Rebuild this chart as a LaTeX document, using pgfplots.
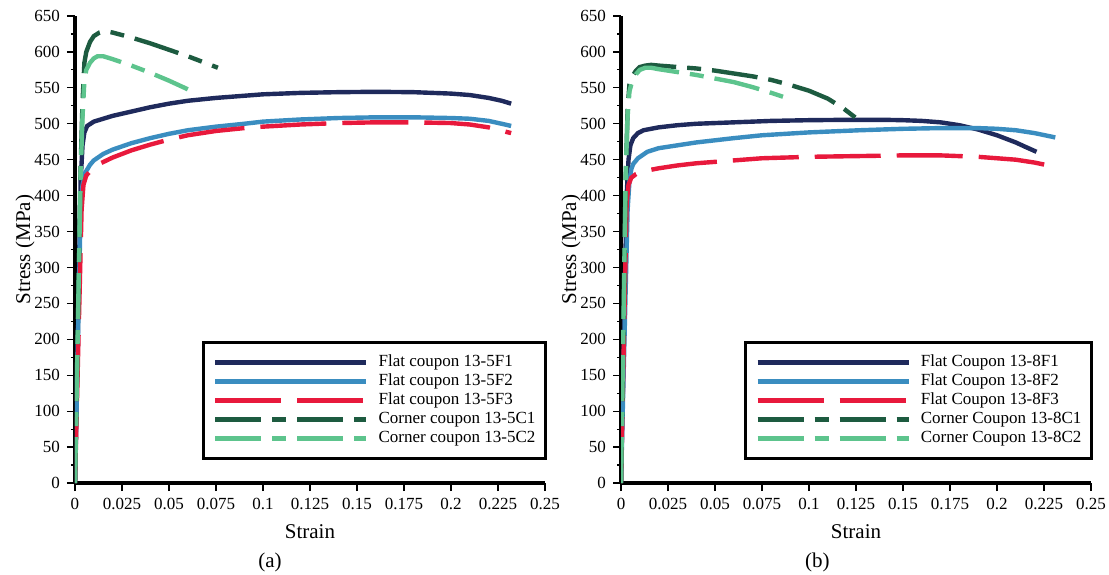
\documentclass[border=0pt]{standalone}
\usepackage{pgfplots}
\pgfplotsset{compat=1.18}
\usetikzlibrary{calc}
\usepackage{fontspec}
\setmainfont{Liberation Serif}

\definecolor{cF1}{HTML}{1F2A5C}
\definecolor{cF2}{HTML}{3A8DC0}
\definecolor{cF3}{HTML}{E8193C}
\definecolor{cC1}{HTML}{1D5B40}
\definecolor{cC2}{HTML}{5DC48D}

\pgfplotsset{
  panel/.style={
    scale only axis, width=235pt, height=233.5pt,
    xmin=0, xmax=0.25, ymin=0, ymax=650,
    axis x line*=bottom, axis y line*=left,
    axis line style={line width=1.6pt, -},
    tick align=outside, major tick length=4pt, minor tick length=2pt,
    tick style={black, line width=0.6pt},
    xtick={0,0.025,0.05,0.075,0.1,0.125,0.15,0.175,0.2,0.225,0.25},
    xticklabels={0,0.025,0.05,0.075,0.1,0.125,0.15,0.175,0.2,0.225,0.25},
    ytick={0,50,...,650}, minor y tick num=1,
    /pgf/number format/assume math mode=true,
    tick label style={font=\rmfamily\fontsize{8.5}{10}\selectfont},
    xlabel={Strain}, ylabel={Stress (MPa)},
    label style={font=\rmfamily\fontsize{10.5}{12}\selectfont},
    xlabel style={at={(axis description cs:0.5,-0.105)}, anchor=center},
    ylabel style={at={(axis description cs:-0.106,0.5)}, anchor=center},
    legend style={at={(1,0)}, anchor=south east, yshift=11.5pt, xshift=1pt,
      draw=black, line width=1.6pt, inner xsep=5pt, inner ysep=6pt,
      row sep=1.5pt, column sep=5pt, font=\rmfamily\fontsize{8.5}{10}\selectfont,
      nodes={inner sep=0pt, text height=6.2pt, text depth=1.8pt}},
    legend cell align=left,
    legend image code/.code={\draw[##1] (0pt,0pt) -- (75.5pt,0pt);},
  },
  sF1/.style={cF1, line width=2.2pt},
  sF2/.style={cF2, line width=2.2pt},
  sF3/.style={cF3, line width=2.2pt, dash pattern=on 33pt off 8pt},
  sC1/.style={cC1, line width=2.2pt, dash pattern=on 23pt off 5.5pt on 7pt off 5.5pt},
  sC2/.style={cC2, line width=2.2pt, dash pattern=on 23pt off 5.5pt on 7pt off 5.5pt},
}

\begin{document}
\begin{tikzpicture}
\useasboundingbox (-37.5pt,-45.5pt) rectangle (517pt,241.5pt);

\begin{axis}[panel, name=pa]
\addplot[sF1] coordinates {(0,0) (0.0030,420) (0.0040,470) (0.0050,488) (0.0065,497) (0.010,503) (0.015,507) (0.020,511) (0.030,517) (0.040,523) (0.050,528) (0.060,532) (0.075,536) (0.090,539) (0.10,541) (0.12,543) (0.14,544) (0.16,544.5) (0.18,544) (0.20,542) (0.21,540) (0.22,536) (0.227,532) (0.232,528)};
\addlegendentry{Flat coupon 13-5F1}
\addplot[sF2] coordinates {(0,0) (0.0030,380) (0.0040,415) (0.0055,432) (0.008,443) (0.010,449) (0.015,458) (0.020,464) (0.030,473) (0.040,480) (0.050,486) (0.060,491) (0.075,496) (0.090,500) (0.10,503) (0.12,506) (0.14,508) (0.16,509) (0.18,509) (0.20,508) (0.21,507) (0.22,504) (0.227,500) (0.232,497)};
\addlegendentry{Flat coupon 13-5F2}
\addplot[sF3] coordinates {(0,0) (0.0035,380) (0.0045,415) (0.006,428) (0.008,434) (0.012,443) (0.020,453) (0.030,463) (0.040,471) (0.050,478) (0.060,484) (0.075,490) (0.090,494) (0.10,496) (0.12,499) (0.14,501) (0.16,502) (0.18,502) (0.20,501) (0.21,499) (0.22,495) (0.232,487)};
\addlegendentry{Flat coupon 13-5F3}
\addplot[sC1] coordinates {(0,0) (0.0030,440) (0.0040,530) (0.0050,585) (0.0060,600) (0.008,614) (0.010,622) (0.013,627) (0.016,629) (0.020,627) (0.030,620) (0.040,612) (0.050,603) (0.060,594) (0.070,584) (0.076,578)};
\addlegendentry{Corner coupon 13-5C1}
\addplot[sC2] coordinates {(0,0) (0.0030,430) (0.0040,510) (0.0050,560) (0.0060,575) (0.008,585) (0.010,591) (0.012,594) (0.015,594) (0.020,590) (0.030,581) (0.040,571) (0.050,560) (0.060,548)};
\addlegendentry{Corner coupon 13-5C2}
\end{axis}

\begin{axis}[panel, name=pb, at={(273pt,0pt)}]
\addplot[sF1] coordinates {(0,0) (0.003,400) (0.004,450) (0.005,470) (0.0065,480) (0.009,487) (0.012,491) (0.020,495) (0.030,498) (0.040,500) (0.060,502) (0.080,504) (0.10,505) (0.12,505.5) (0.14,505.5) (0.15,505) (0.16,504) (0.17,502) (0.18,498) (0.19,492) (0.20,484) (0.21,474) (0.215,468) (0.221,461)};
\addlegendentry{Flat Coupon 13-8F1}
\addplot[sF2] coordinates {(0,0) (0.0035,380) (0.0045,420) (0.0055,437) (0.0065,444) (0.009,452) (0.014,461) (0.020,466) (0.030,470) (0.040,474) (0.060,480) (0.075,484) (0.10,488) (0.127,491) (0.15,493) (0.17,494) (0.19,494) (0.20,493) (0.21,491) (0.22,487) (0.231,481)};
\addlegendentry{Flat Coupon 13-8F2}
\addplot[sF3] coordinates {(0,0) (0.0030,390) (0.0040,415) (0.0055,425) (0.008,430) (0.012,434) (0.020,438) (0.030,442) (0.040,445) (0.060,449) (0.075,452) (0.10,454) (0.125,455) (0.15,456) (0.17,456) (0.19,454) (0.20,452) (0.21,450) (0.22,446) (0.231,440)};
\addlegendentry{Flat Coupon 13-8F3}
\addplot[sC1] coordinates {(0,0) (0.0025,420) (0.0035,520) (0.0045,555) (0.006,566) (0.008,574) (0.010,579) (0.013,581) (0.016,582) (0.020,581) (0.030,579) (0.040,577) (0.050,574) (0.060,570) (0.070,566) (0.080,561) (0.090,554) (0.10,546) (0.110,535) (0.118,522) (0.126,506)};
\addlegendentry{Corner Coupon 13-8C1}
\addplot[sC2] coordinates {(0,0) (0.0025,430) (0.0035,510) (0.0045,545) (0.006,560) (0.008,569) (0.010,575) (0.013,578) (0.016,578) (0.020,576) (0.030,572) (0.040,568) (0.050,563) (0.060,558) (0.070,551) (0.080,543) (0.088,536)};
\addlegendentry{Corner Coupon 13-8C2}
\end{axis}

\node[font=\rmfamily\fontsize{10.5}{12}\selectfont] at ($(pa.south west)!0.415!(pa.south east)+(0,-39.5pt)$) {(a)};
\node[font=\rmfamily\fontsize{10.5}{12}\selectfont] at ($(pb.south west)!0.418!(pb.south east)+(0,-39.5pt)$) {(b)};
\end{tikzpicture}
\end{document}
